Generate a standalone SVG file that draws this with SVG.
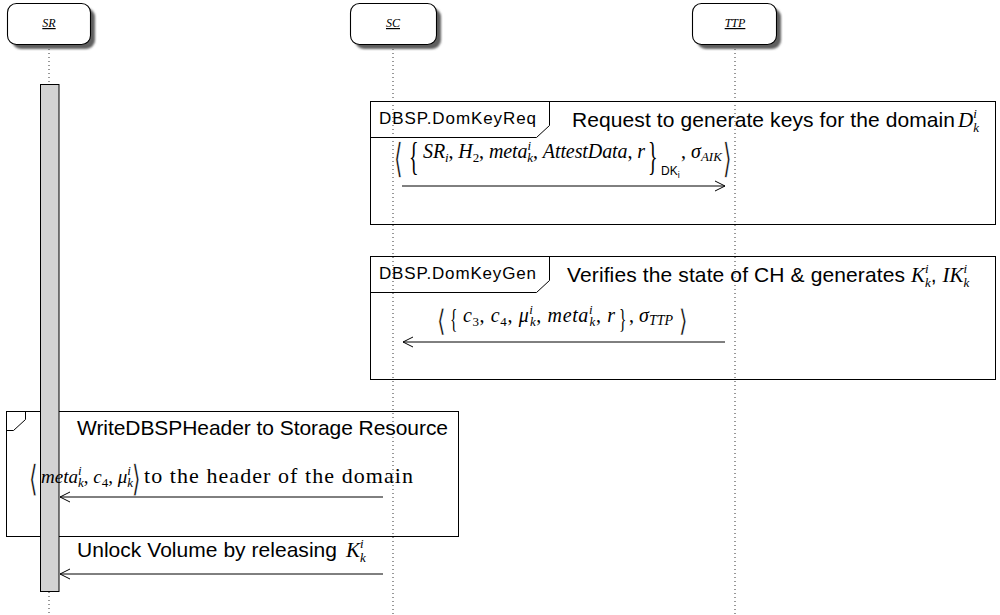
<svg xmlns="http://www.w3.org/2000/svg" width="1000" height="615" viewBox="0 0 1000 615">
<defs>
<style>
.sans{font-family:"Liberation Sans","DejaVu Sans",sans-serif;fill:#000}
.rm{font-family:"Liberation Serif","DejaVu Serif",serif;fill:#000}
.mi{font-family:"Liberation Serif","DejaVu Serif",serif;font-style:italic;fill:#000}
.up{font-style:normal}
.delim{font-family:"DejaVu Sans",sans-serif;font-weight:200;fill:#000;stroke:#fff;stroke-width:0.3}
.head{fill:#fff;stroke:#000;stroke-width:1.1}
.shadow{fill:#5e5e5e}
.life{stroke:#333;stroke-width:1;stroke-dasharray:1 3;fill:none}
.frame{fill:none;stroke:#000;stroke-width:1}
.msg{stroke:#000;stroke-width:1;fill:none;marker-end:url(#arr)}
.bar{fill:#d3d3d3;stroke:#000;stroke-width:1}
</style>
<marker id="arr" markerWidth="12" markerHeight="12" refX="10" refY="6" orient="auto" markerUnits="userSpaceOnUse">
<path d="M0,1 L10,6 L0,11" fill="none" stroke="#000" stroke-width="1"/>
</marker>
<filter id="soft" x="-10%" y="-10%" width="130%" height="140%"><feGaussianBlur stdDeviation="1.3"/></filter>
</defs>
<rect width="1000" height="615" fill="#fff"/>

<!-- lifelines -->
<g id="lifelines">
<path class="life" d="M49,49 V84 M49,592 V615"/>
<path class="life" d="M393,49 V615"/>
<path class="life" d="M735,49 V615"/>
</g>

<!-- participant heads -->
<g id="sr">
<rect class="shadow" x="12" y="8" width="83" height="41" rx="9" filter="url(#soft)"/>
<rect class="head" x="7.5" y="3.5" width="83" height="41" rx="9"/>
<text class="mi" x="49" y="27" font-size="12" text-anchor="middle" text-decoration="underline">SR</text>
</g>
<g id="sc">
<rect class="shadow" x="355" y="8" width="86" height="41" rx="9" filter="url(#soft)"/>
<rect class="head" x="350.5" y="3.5" width="86" height="41" rx="9"/>
<text class="mi" x="393" y="27" font-size="12" text-anchor="middle" text-decoration="underline">SC</text>
</g>
<g id="ttp">
<rect class="shadow" x="697" y="8" width="84" height="41" rx="9" filter="url(#soft)"/>
<rect class="head" x="692.5" y="3.5" width="84" height="41" rx="9"/>
<text class="mi" x="735" y="27" font-size="12" text-anchor="middle" text-decoration="underline">TTP</text>
</g>

<!-- interaction frames -->
<g id="frame-domkeyreq">
<rect class="frame" x="370.5" y="101.5" width="625" height="123"/>
<path class="frame" d="M370.5,137.5 H536.5 L549.5,125.5 V101.5"/>
<text class="sans" x="379" y="124" font-size="17" textLength="157">DBSP.DomKeyReq</text>
<text class="sans" x="572" y="127" font-size="21" textLength="383">Request to generate keys for the domain</text>
<text class="mi" x="958" y="127" font-size="21">D<tspan font-size="13" dy="-9">i</tspan><tspan font-size="13" dx="-3.6" dy="14">k</tspan></text>
</g>

<g id="frame-domkeygen">
<rect class="frame" x="370.5" y="256.5" width="625" height="123"/>
<path class="frame" d="M370.5,292.5 H536.5 L549.5,280.5 V256.5"/>
<text class="sans" x="379" y="279" font-size="17" textLength="157">DBSP.DomKeyGen</text>
<text class="sans" x="567" y="282" font-size="21" textLength="338">Verifies the state of CH &amp; generates</text>
<text class="mi" x="911" y="282" font-size="21">K<tspan font-size="13" dy="-9">i</tspan><tspan font-size="13" dx="-3.6" dy="14">k</tspan><tspan class="sans" font-style="normal" font-size="21" dy="-5">, </tspan>IK<tspan font-size="13" dy="-9">i</tspan><tspan font-size="13" dx="-3.6" dy="14">k</tspan></text>
</g>

<g id="frame-write">
<rect class="frame" x="6.5" y="411.5" width="452" height="125"/>
<path class="frame" d="M6.5,430.5 H13.5 L25.5,419.5 V411.5"/>
<text class="sans" x="77" y="435" font-size="21" textLength="371">WriteDBSPHeader to Storage Resource</text>
</g>

<!-- activation of SR -->
<g id="sr-activation">
<rect class="bar" x="40.5" y="84.5" width="18.5" height="507"/>
</g>

<!-- messages -->
<g id="connectors">
<path class="msg" d="M402,186 H725"/>
<path class="msg" d="M725,342 H403"/>
<path class="msg" d="M383,497 H60"/>
<path class="msg" d="M383,574 H60"/>
</g>

<g id="label-req">
<text class="delim" font-size="20" transform="translate(394,172) scale(1.1,2)">⟨</text>
<text class="rm" font-size="40" transform="translate(409,170) scale(0.5,1)">{</text>
<text class="mi" x="423" y="158" font-size="20" textLength="222">SR<tspan font-size="13" dy="4">i</tspan><tspan class="up" dy="-4">, </tspan>H<tspan class="up" font-size="13" dy="4">2</tspan><tspan class="up" dy="-4">, </tspan>meta<tspan font-size="13" dy="-8">i</tspan><tspan font-size="13" dx="-3.6" dy="12">k</tspan><tspan class="up" dy="-4">, </tspan>AttestData<tspan class="up">, </tspan>r</text>
<text class="rm" font-size="40" transform="translate(648,170) scale(0.5,1)">}</text>
<text class="sans" x="661" y="175" font-size="12">DK<tspan font-size="9" dy="3">i</tspan></text>
<text class="mi" x="681" y="158" font-size="20"><tspan class="up">, </tspan>σ<tspan font-size="13" dy="3">AIK</tspan></text>
<text class="delim" font-size="20" transform="translate(723,172) scale(1.1,2)">⟩</text>
</g>

<g id="label-gen">
<text class="delim" font-size="20" transform="translate(437,331) scale(1.1,1.5)">⟨</text>
<text class="rm" font-size="28" transform="translate(450,328) scale(0.55,1)">{</text>
<text class="mi" x="463" y="322" font-size="20" textLength="152">c<tspan class="up" font-size="13" dy="4">3</tspan><tspan class="up" dy="-4">, </tspan>c<tspan class="up" font-size="13" dy="4">4</tspan><tspan class="up" dy="-4">, </tspan>μ<tspan font-size="13" dy="-8">i</tspan><tspan font-size="13" dx="-3.6" dy="12">k</tspan><tspan class="up" dy="-4">, </tspan>meta<tspan font-size="13" dy="-8">i</tspan><tspan font-size="13" dx="-3.6" dy="12">k</tspan><tspan class="up" dy="-4">, </tspan>r</text>
<text class="rm" font-size="28" transform="translate(619,328) scale(0.55,1)">}</text>
<text class="mi" x="629" y="322" font-size="20"><tspan class="up">, </tspan>σ<tspan font-size="14" dy="3">TTP</tspan></text>
<text class="delim" font-size="20" transform="translate(679,331) scale(1.1,1.5)">⟩</text>
</g>

<g id="label-write">
<text class="delim" font-size="20" transform="translate(29,491) scale(1.1,1.8)">⟨</text>
<text class="mi" x="41" y="483" font-size="19">meta<tspan font-size="13" dy="-8">i</tspan><tspan font-size="13" dx="-3.6" dy="12">k</tspan><tspan class="up" dy="-4">, </tspan>c<tspan class="up" font-size="13" dy="4">4</tspan><tspan class="up" dy="-4">, </tspan>μ<tspan font-size="13" dy="-8">i</tspan><tspan font-size="13" dx="-3.6" dy="12">k</tspan></text>
<text class="delim" font-size="20" transform="translate(132,491) scale(1.1,1.8)">⟩</text>
<text class="rm" x="144" y="483" font-size="22" textLength="269">to the header of the domain</text>
</g>

<g id="label-unlock">
<text class="sans" x="77" y="557" font-size="21" textLength="260">Unlock Volume by releasing</text>
<text class="mi" x="346" y="557" font-size="21">K<tspan font-size="13" dy="-9">i</tspan><tspan font-size="13" dx="-3.6" dy="14">k</tspan></text>
</g>
</svg>
